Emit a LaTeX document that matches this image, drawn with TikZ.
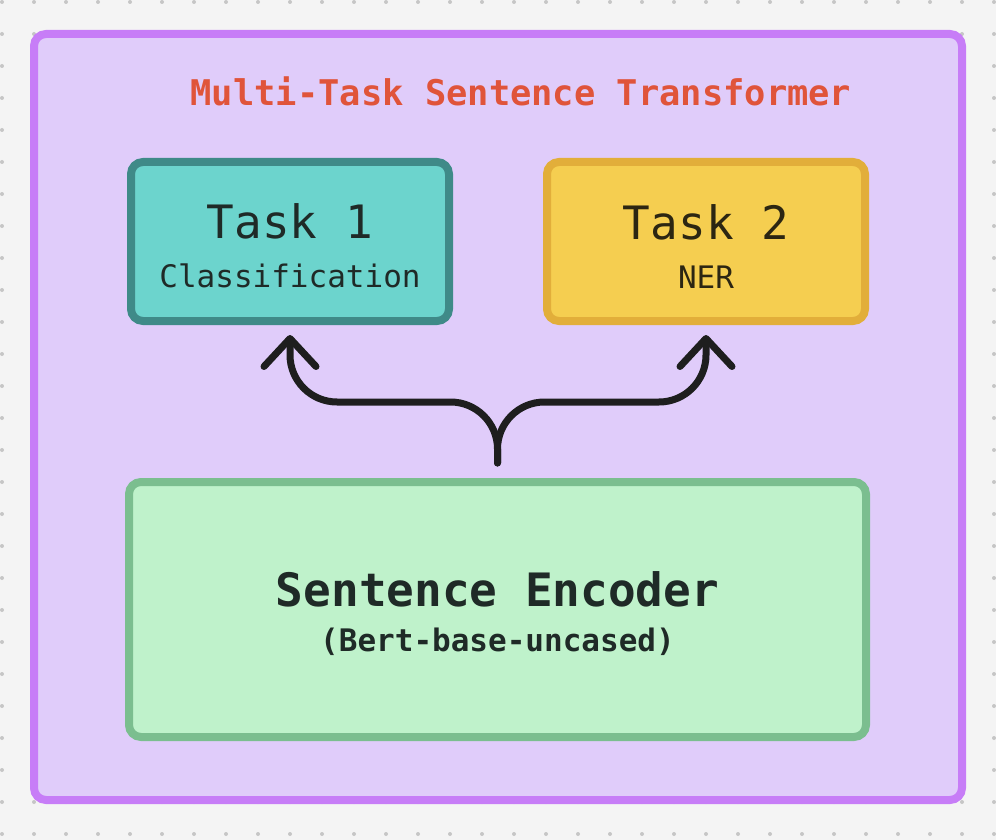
\documentclass[tikz,border=0pt]{standalone}
\usepackage{fontspec}
\setmonofont{DejaVu Sans Mono}
\usetikzlibrary{arrows.meta}

\definecolor{paper}{HTML}{F4F4F4}
\definecolor{dotgrey}{HTML}{C6C6C6}
\definecolor{frameedge}{HTML}{C77DF7}
\definecolor{framefill}{HTML}{E0CCFA}
\definecolor{titlered}{HTML}{E0543A}
\definecolor{oneedge}{HTML}{3F8A88}
\definecolor{onefill}{HTML}{6CD4CD}
\definecolor{twoedge}{HTML}{E2AE3A}
\definecolor{twofill}{HTML}{F5CE50}
\definecolor{encedge}{HTML}{7BBE8F}
\definecolor{encfill}{HTML}{BFF2CB}
\definecolor{ink}{HTML}{1F2A27}
\definecolor{inkbrown}{HTML}{2C2612}
\definecolor{arrowink}{HTML}{1E1E1E}

\begin{document}
\begin{tikzpicture}[x=1pt, y=-1pt]
	\tikzstyle{box}=[draw, line width=8pt, rounded corners=12pt, minimum width=318pt, minimum height=159pt, align=center, font=\ttfamily\fontsize{46}{49}\selectfont]
	\tikzstyle{flow}=[draw=arrowink, line width=7pt, line cap=round, rounded corners=47pt, -{Straight Barb[length=28pt,width=52pt,round]}]

	%background
	\useasboundingbox (0,0) rectangle (996,840);
	\fill[paper] (0,0) rectangle (996,840);
	\foreach \i in {0,...,31}
		\foreach \j in {0,...,26}
			\fill[dotgrey] ({2+32*\i},{2+32*\j}) circle (2pt);

	%frame
	\draw[line width=8pt, draw=frameedge, fill=framefill, rounded corners=12pt] (34,34) rectangle (962,800);
	\node[font=\ttfamily\bfseries\fontsize{35.4}{36}\selectfont, text=titlered, anchor=base] (title) at (521,106) {Multi-Task Sentence Transformer};

	%tasks
	\node[box, draw=oneedge, fill=onefill, text=ink] (task1) at (290,241.5)
		{\rule{0pt}{44pt}Task 1\\{\fontsize{31}{31}\selectfont Classification}};
	\node[box, draw=twoedge, fill=twofill, text=inkbrown] (task2) at (706,241.5)
		{\rule{0pt}{44pt}Task 2\\{\fontsize{31}{31}\selectfont NER}};

	%encoder
	\node[box, draw=encedge, fill=encfill, text=ink, minimum width=737pt, minimum height=255pt, font=\ttfamily\bfseries\fontsize{46}{45}\selectfont] (enc) at (497.5,609.5)
		{\rule{0pt}{44pt}Sentence Encoder\\{\fontsize{31}{31}\selectfont (Bert-base-uncased)}};

	%arrows
	\coordinate (fork) at ([yshift=76pt]enc.north);
	\draw[flow] ([yshift=15pt]enc.north) -- (fork) -| ([yshift=-10pt]task1.south);
	\draw[flow] ([yshift=15pt]enc.north) -- (fork) -| ([yshift=-10pt]task2.south);
\end{tikzpicture}
\end{document}
